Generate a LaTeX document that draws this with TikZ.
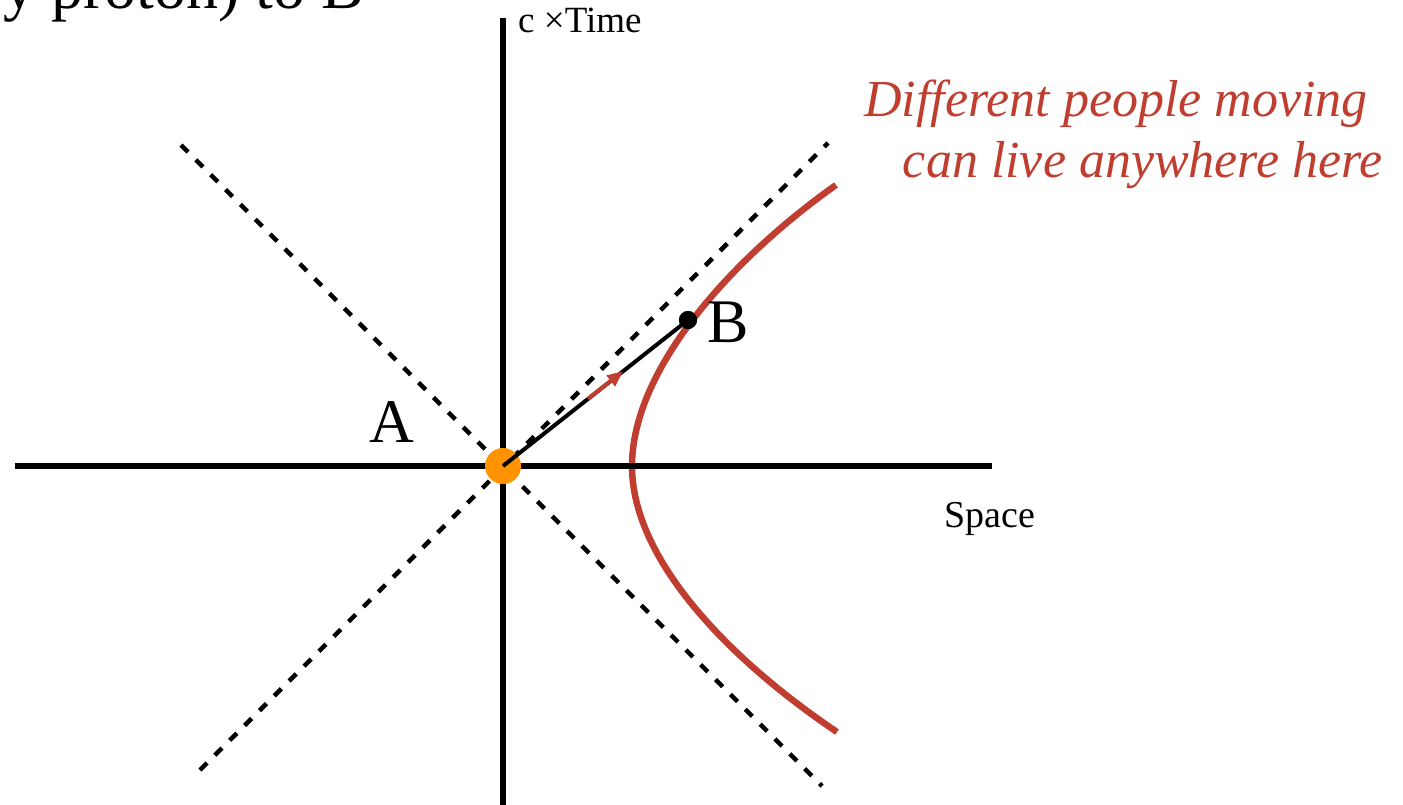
\documentclass[tikz,border=0pt]{standalone}
\usepackage{fontspec}
\setmainfont{Liberation Serif}
\usepackage{tikz}
\usetikzlibrary{arrows.meta,positioning,calc}
\usepackage{xcolor}
\definecolor{curvered}{RGB}{192,62,47}
\definecolor{eventorange}{RGB}{255,148,0}
\tikzset{
  axisline/.style={line width=6.5pt, black},
  cone/.style={line width=4.5pt, dash pattern=on 10pt off 11pt},
  hyper/.style={line width=6.5pt, curvered},
  worldline/.style={line width=4pt, black},
  redarrow/.style={-{Triangle[length=16pt,width=13pt]}, line width=4pt, curvered},
  event/.style={circle, fill=eventorange, minimum size=36pt, inner sep=0pt},
  dot/.style={circle, fill=black, minimum size=18pt, inner sep=0pt},
  lbl/.style={inner sep=0pt, anchor=base west},
}

\begin{document}
\begin{tikzpicture}[x=1pt, y=-1pt]
\useasboundingbox (0,0) rectangle (1403,804);
% light cone and axes
\coordinate (c1) at (181,145);
\coordinate (c2) at (822,786);
\coordinate (c3) at (200,770);
\coordinate (c4) at (828,143);
\coordinate (xl) at (15,466);
\coordinate (xr) at (992,466);
\coordinate (tt) at (503,18);
\coordinate (tb) at (503,806);
\coordinate (v) at (632,466);
\foreach \a/\b in {c1/c2, c3/c4}
  \draw[cone] (\a) -- (\b);
\draw[hyper] (836,185) .. controls (730,260) and (632,370) .. (v)
                       .. controls (632,560) and (730,660) .. (837,732);
\draw[axisline] (xl) -- (xr);
\draw[axisline] (tt) -- (tb);
% events
\node[event] (o) at (503,466) {};
\node[dot] (b) at (688,320) {};
\draw[worldline] (o.center) -- (b.center);
\draw[redarrow] ($(o)!0.46!(b)$) -- ($(o)!0.65!(b)$);
\node[dot] at (b) {};
% labels
\node[lbl, font=\fontsize{64}{70}\selectfont] (frag) at (3,8) {y proton) to B};
\node[lbl, font=\fontsize{37}{44}\selectfont] (tlabel) at (518,32) {c ×Time};
\node[lbl, font=\fontsize{38}{44}\selectfont] (slabel) at (944,527) {Space};
\node[lbl, font=\fontsize{62}{70}\selectfont] (alabel) at (369,442) {A};
\node[lbl, font=\fontsize{62}{70}\selectfont] (blabel) at (707,342) {B};
\node[inner sep=0pt, anchor=south east, align=right, text=curvered,
      font=\fontsize{52}{61}\selectfont\itshape] (note) at (1383,189)
  {Different people moving\hspace*{15pt}\\can live anywhere here};
\end{tikzpicture}
\end{document}
